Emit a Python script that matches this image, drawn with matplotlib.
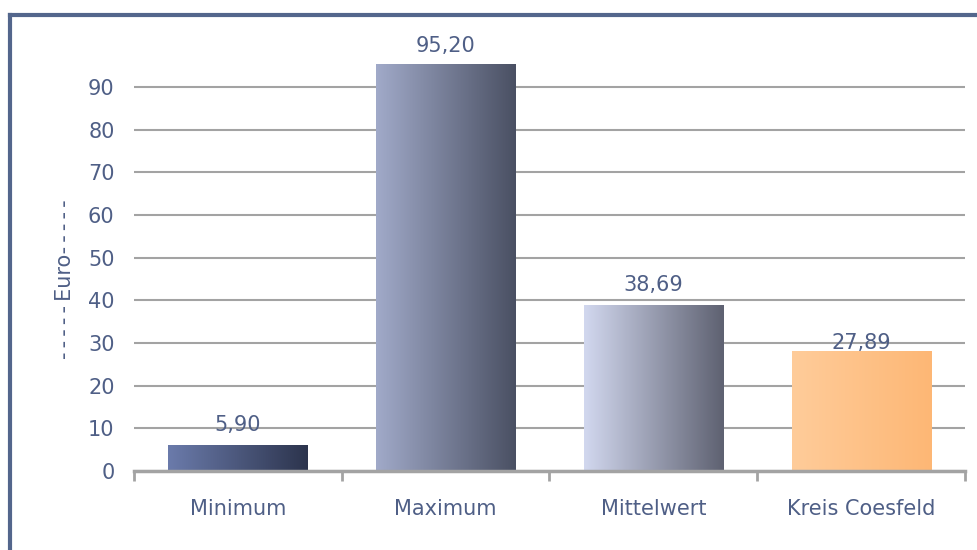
import numpy as np
import matplotlib
matplotlib.use("Agg")
import matplotlib.pyplot as plt
from matplotlib.colors import LinearSegmentedColormap
from matplotlib.lines import Line2D

categories = ["Minimum", "Maximum", "Mittelwert", "Kreis Coesfeld"]
values = [5.90, 95.20, 38.69, 27.89]
labels = ["5,90", "95,20", "38,69", "27,89"]
# left -> right gradient colours of each bar
grad_colors = [("#6b7bab", "#2c344d"),
               ("#a1aac9", "#4a5063"),
               ("#d2d8ef", "#5e6171"),
               ("#ffcc9a", "#fdb775")]
label_offsets = [8, 6, 8, -1]

txt = "#4f5f86"
grid = "#a3a3a3"

fig = plt.figure(figsize=(9.78, 5.5), dpi=100)
ax = fig.add_axes([134/978, 1 - 471/550, (965 - 134)/978, 426.7/550])

x = np.arange(len(categories))
bars = ax.bar(x, values, width=0.67, color="none", zorder=3)

grad = np.linspace(0, 1, 256).reshape(1, -1)
for b, (c1, c2) in zip(bars, grad_colors):
    cmap = LinearSegmentedColormap.from_list("g", [c1, c2])
    x0, y0 = b.get_x(), b.get_y()
    ax.imshow(grad, cmap=cmap, aspect="auto", zorder=3,
              extent=(x0, x0 + b.get_width(), y0, y0 + b.get_height()))

for b, lab, off in zip(bars, labels, label_offsets):
    ax.annotate(lab, (b.get_x() + b.get_width()/2, b.get_height()),
                xytext=(0, off), textcoords="offset points",
                ha="center", va="bottom", color=txt, fontsize=15, zorder=4)

ax.set_xlim(-0.5, len(categories) - 0.5)
ax.set_ylim(0, 100)
ax.set_yticks(range(0, 100, 10))
ax.yaxis.grid(True, color=grid, linewidth=1.5)
ax.set_axisbelow(True)

ax.set_xticks(x)
ax.set_xticklabels(categories)
ax.set_xticks(np.arange(-0.5, len(categories)), minor=True)
ax.tick_params(axis="x", which="major", length=0, pad=20, labelsize=15, labelcolor=txt)
ax.tick_params(axis="x", which="minor", length=7, width=2, color=grid, direction="out")
ax.tick_params(axis="y", length=0, pad=14, labelsize=15, labelcolor=txt)

for s in ["top", "right", "left"]:
    ax.spines[s].set_visible(False)
ax.spines["bottom"].set_color(grid)
ax.spines["bottom"].set_linewidth(2.5)
ax.spines["bottom"].set_zorder(5)

dash = "\u2009".join("-" * 5)
fig.text(65/978, 1 - 279/550, dash + "\u2009Euro" + dash, rotation=90, color=txt,
         fontsize=15, ha="center", va="center")

# frame around the chart
fig.add_artist(Line2D([10/978, 10/978], [0, 1 - 15/550], color="#53668c", linewidth=3))
fig.add_artist(Line2D([10/978, 1], [1 - 15/550, 1 - 15/550], color="#53668c", linewidth=3))

fig.savefig("out.png", dpi=100)
